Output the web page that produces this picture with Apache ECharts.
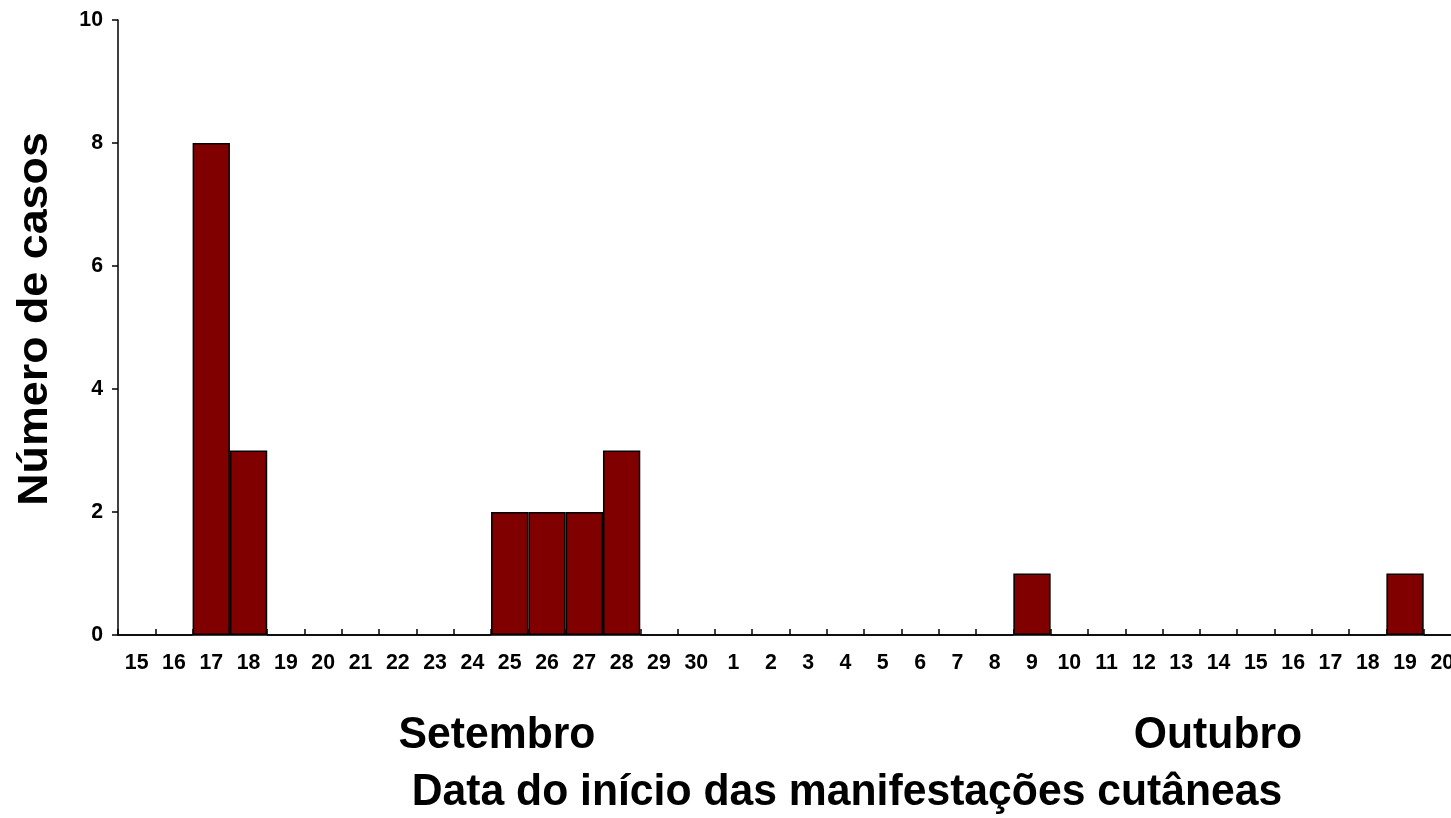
<!DOCTYPE html>
<html>
<head>
<meta charset="utf-8">
<script src="https://cdn.jsdelivr.net/npm/echarts@6/dist/echarts.min.js"></script>
<style>
html,body{margin:0;padding:0;background:#fff;}
#chart{width:1451px;height:818px;}
</style>
</head>
<body>
<div id="chart"></div>
<script>
var septDays = ['15','16','17','18','19','20','21','22','23','24','25','26','27','28','29','30'];
var octDays = ['1','2','3','4','5','6','7','8','9','10','11','12','13','14','15','16','17','18','19','20'];
var septCases = [0,0,8,3,0,0,0,0,0,0,2,2,2,3,0,0];
var octCases = [0,0,0,0,0,0,0,0,1,0,0,0,0,0,0,0,0,0,1,0];
var yTicks = [0,2,4,6,8,10];
var monthLabels = ['Setembro','Outubro'];
var xTitle = 'Data do início das manifestações cutâneas';
var yTitle = 'Número de casos';

var categories = septDays.concat(octDays);
var values = septCases.concat(octCases);
var FONT = '"Liberation Sans", Arial, sans-serif';
var BIG = 'bold 42.7px ' + FONT;

var chart = echarts.init(document.getElementById('chart'));
chart.setOption({
  animation: false,
  backgroundColor: '#fff',
  grid: {left: 118, top: 20, right: -10, bottom: 183, outerBoundsMode: 'none', containLabel: false},
  xAxis: {
    type: 'category',
    data: categories,
    boundaryGap: true,
    axisLine: {lineStyle: {color: '#000', width: 1.5}},
    axisTick: {show: true, inside: true, length: 6, interval: 0, alignWithLabel: false, lineStyle: {color: '#000', width: 1.5}},
    axisLabel: {interval: 0, margin: 18, color: '#000', fontFamily: FONT, fontWeight: 'bold', fontSize: 21.3},
    splitLine: {show: false}
  },
  yAxis: {
    type: 'value',
    min: yTicks[0],
    max: yTicks[yTicks.length - 1],
    interval: 2,
    axisLine: {show: true, lineStyle: {color: '#000', width: 1.5}},
    axisTick: {show: true, inside: false, length: 6, lineStyle: {color: '#000', width: 1.5}},
    axisLabel: {margin: 15, color: '#000', fontFamily: FONT, fontWeight: 'bold', fontSize: 21.3},
    splitLine: {show: false}
  },
  series: [{
    type: 'bar',
    data: values,
    barCategoryGap: '0%',
    itemStyle: {color: '#800000', borderColor: '#000', borderWidth: 1.5}
  }],
  graphic: [
    {type: 'text', x: 497, y: 736, scaleY: 1.05, style: {text: monthLabels[0], font: BIG, fill: '#000', textAlign: 'center', textVerticalAlign: 'middle'}},
    {type: 'text', x: 1218, y: 736, scaleY: 1.05, style: {text: monthLabels[1], font: BIG, fill: '#000', textAlign: 'center', textVerticalAlign: 'middle'}},
    {type: 'text', x: 847, y: 793, scaleY: 1.05, style: {text: xTitle, font: BIG, fill: '#000', textAlign: 'center', textVerticalAlign: 'middle'}},
    {type: 'text', x: 35, y: 319, rotation: Math.PI / 2, scaleX: 1.05, style: {text: yTitle, font: BIG, fill: '#000', textAlign: 'center', textVerticalAlign: 'middle'}}
  ]
});
</script>
</body>
</html>
